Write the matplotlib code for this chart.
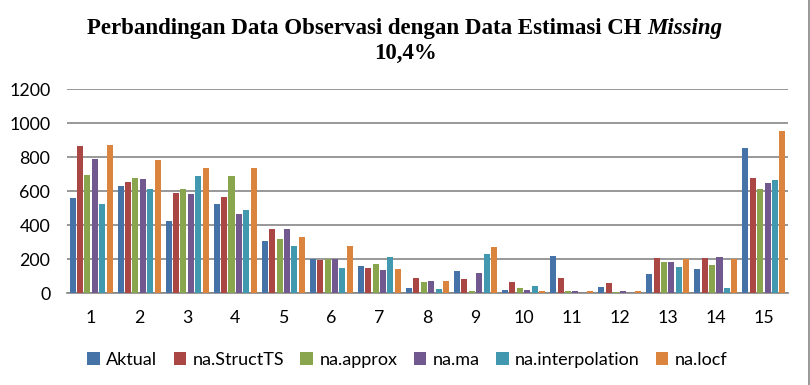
import matplotlib
matplotlib.use("Agg")
import matplotlib.pyplot as plt
import numpy as np

# data
groups = [str(i) for i in range(1, 16)]
aktual = [561, 631, 426, 526, 308, 202, 161, 31, 131, 20, 220, 37, 114, 143, 855]
struct_ts = [867, 655, 590, 567, 378, 196, 149, 90, 84, 67, 90, 61, 208, 208, 679]
approx = [696, 679, 614, 690, 320, 202, 173, 67, 14, 31, 14, 8, 184, 167, 614]
ma = [790, 673, 584, 467, 378, 202, 137, 73, 120, 20, 14, 14, 184, 214, 649]
interp = [526, 614, 690, 490, 278, 149, 214, 25, 231, 43, 0, 0, 155, 31, 667]
locf = [873, 784, 737, 737, 331, 278, 143, 73, 273, 14, 14, 14, 202, 202, 955]

series_names = ["Aktual", "na.StructTS", "na.approx", "na.ma", "na.interpolation", "na.locf"]
series = [aktual, struct_ts, approx, ma, interp, locf]
colors = ["#4572A7", "#AA4643", "#89A54E", "#71588F", "#4198AF", "#DB843D"]

fig = plt.figure(figsize=(8.1, 3.85), dpi=100)
ax = fig.add_axes([0.0827, 0.238, 0.890, 0.530])

x = np.arange(len(groups))
step = 0.154
width = 0.125
for i, (name, vals, c) in enumerate(zip(series_names, series, colors)):
    ax.bar(x + (i - 2.5) * step, vals, width=width, color=c, label=name, zorder=3)

ax.set_xlim(-0.5, len(groups) - 0.5)
ax.set_ylim(0, 1200)
ax.set_yticks(np.arange(0, 1201, 200))
ax.set_xticks(x)
ax.set_xticklabels(groups)
ax.yaxis.grid(True, color="#868686", linewidth=1.2, zorder=0)
for s in ["top", "right", "left"]:
    ax.spines[s].set_visible(False)
ax.spines["bottom"].set_color("#868686")
ax.spines["bottom"].set_linewidth(1.2)
ax.tick_params(axis="both", length=0, labelsize=12.8, colors="black")
ax.tick_params(axis="y", pad=12)
ax.tick_params(axis="x", pad=12)
for lbl in ax.get_xticklabels() + ax.get_yticklabels():
    lbl.set_fontfamily("Lato")

leg = fig.legend(loc="center", bbox_to_anchor=(0.503, 0.066), ncol=6, frameon=False,
                 prop={"family": "Lato", "size": 13}, handlelength=0.7,
                 handleheight=0.7, handletextpad=0.35, columnspacing=0.9)

# two-part title: bold upright + bold italic "Missing"
tsize = 16.5
part1 = fig.text(0, 0.927, "Perbandingan Data Observasi dengan Data Estimasi CH ",
                 fontfamily="Liberation Serif", fontweight="bold", fontsize=tsize,
                 va="center", ha="left")
part2 = fig.text(0, 0.927, "Missing", fontfamily="Liberation Serif", fontweight="bold",
                 fontstyle="italic", fontsize=tsize, va="center", ha="left")
fig.canvas.draw()
r = fig.canvas.get_renderer()
w1 = part1.get_window_extent(r).width
w2 = part2.get_window_extent(r).width
x0 = (fig.bbox.width * 0.5 - (w1 + w2) / 2) / fig.bbox.width
part1.set_x(x0)
part2.set_x(x0 + w1 / fig.bbox.width)
fig.text(0.5, 0.862, "10,4%", fontfamily="Liberation Serif", fontweight="bold",
         fontsize=tsize, va="center", ha="center")

fig.add_artist(plt.Line2D([0.9985, 0.9985], [0, 1], color="#868686", linewidth=1.2,
                          transform=fig.transFigure))

fig.savefig("out.png", dpi=100)
